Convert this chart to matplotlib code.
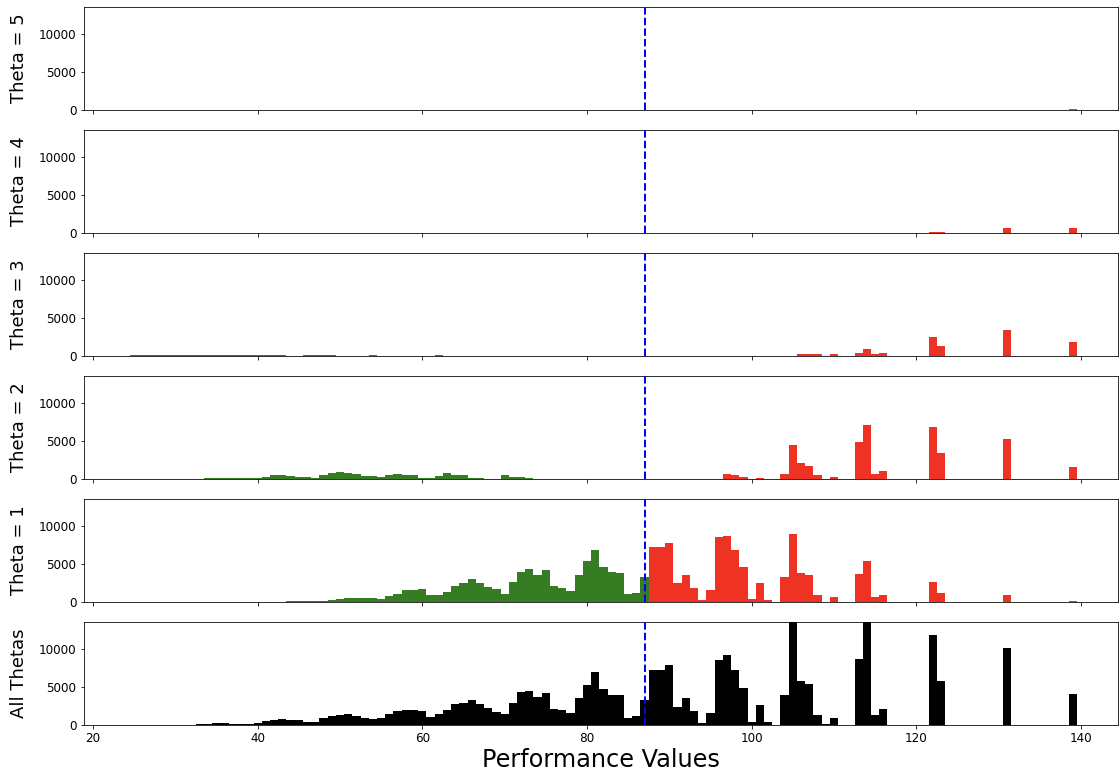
import numpy as np
import matplotlib
matplotlib.use("Agg")
import matplotlib.pyplot as plt

# ---- data (histogram counts per integer performance value) ----
threshold = 87.05

# Theta = 1
t1_green_start = 44
t1_green = [100, 100, 100, 100, 100, 200, 400, 570, 570, 570, 570, 440, 750, 1000,
            1580, 1580, 1700, 960, 960, 1300, 2150, 2450, 3000, 2450, 2000, 1700,
            1000, 2600, 4000, 4340, 3600, 4170, 2150, 1900, 1500, 3600, 5350, 6900,
            4600, 3950, 3770, 1000, 1180, 3300]
t1_red_start = 88
t1_red = [7200, 7200, 7800, 2450, 3600, 1900, 300, 1580, 8550, 8700, 6800, 4600,
          440, 2500, 300, 0, 3330, 8950, 3800, 3500, 880, 0, 600, 0, 0, 3640, 5350,
          600, 880, 0, 0, 0, 0, 0, 2630, 1180, 0, 0, 0, 0, 0, 0, 0, 920, 0, 0, 0, 0,
          0, 0, 0, 170]

# Theta = 2
t2_green_start = 34
t2_green = [130, 130, 130, 130, 130, 130, 130, 260, 550, 550, 350, 260, 260, 130,
            480, 790, 920, 790, 610, 350, 350, 250, 480, 610, 480, 480, 175, 175,
            350, 750, 480, 480, 175, 175, 0, 0, 480, 300, 300, 130]
t2_red_start = 97
t2_red = [610, 480, 300, 0, 175, 0, 0, 610, 4500, 2060, 1750, 480, 0, 300, 0, 0,
          4820, 7100, 610, 1050, 0, 0, 0, 0, 0, 6840, 3380, 0, 0, 0, 0, 0, 0, 0,
          5220, 0, 0, 0, 0, 0, 0, 0, 1620]

# Theta = 3
t3_green_start = 25
t3_green = [150] * 19 + [0, 0, 150, 150, 150, 150, 0, 0, 0, 0, 150,
                         0, 0, 0, 0, 0, 0, 0, 150]
t3_red_start = 106
t3_red = [200, 200, 200, 0, 200, 0, 0, 440, 920, 220, 400, 0, 0, 0, 0, 0, 2500,
          1300, 0, 0, 0, 0, 0, 0, 0, 3420, 0, 0, 0, 0, 0, 0, 0, 1800]

# Theta = 4
t4_red_start = 122
t4_red = [150, 150, 0, 0, 0, 0, 0, 0, 0, 700, 0, 0, 0, 0, 0, 0, 0, 600]

# Theta = 5
t5_red_start = 139
t5_red = [150]

# All thetas
all_start = 33
all_vals = [130, 130, 260, 260, 130, 130, 130, 260, 500, 700, 800, 650, 650, 450,
            450, 880, 1140, 1360, 1400, 1140, 880, 800, 960, 1400, 1900, 2000, 2000,
            1850, 1100, 1400, 2000, 2700, 2900, 3300, 2700, 2200, 1750, 1400, 2850,
            4350, 4430, 3730, 4170, 2150, 1930, 1580, 3600, 5300, 7000, 4740, 3900,
            3900, 960, 1140, 3300, 7300, 7300, 7900, 2400, 3600, 1900, 260, 1540,
            8500, 9250, 7200, 4900, 400, 2600, 400, 0, 4000, 14000, 5800, 5350, 1270,
            90, 960, 0, 0, 8640, 14000, 1270, 2150, 0, 0, 0, 0, 0, 11840, 5800, 0, 0,
            0, 0, 0, 0, 0, 10130, 0, 0, 0, 0, 0, 0, 0, 4040]

row_labels = ["Theta = 5", "Theta = 4", "Theta = 3", "Theta = 2", "Theta = 1", "All Thetas"]

GREEN = "#367c22"
RED = "#ee3325"

W, H = 1119, 773
DPI = 72
fig = plt.figure(figsize=(W / DPI, H / DPI), dpi=DPI)

left = 83.5 / W
right = 1118 / W
tops = [7, 130, 253, 376, 499, 622]
height_px = 103

panels = [
    [(t5_red_start, t5_red, RED)],
    [(t4_red_start, t4_red, RED)],
    [(t3_green_start, t3_green, GREEN), (t3_red_start, t3_red, RED)],
    [(t2_green_start, t2_green, GREEN), (t2_red_start, t2_red, RED)],
    [(t1_green_start, t1_green, GREEN), (t1_red_start, t1_red, RED)],
    [(all_start, all_vals, "black")],
]

axes = []
for i, (top, segs, lab) in enumerate(zip(tops, panels, row_labels)):
    bottom = (H - top - height_px) / H
    ax = fig.add_axes([left, bottom, right - left, height_px / H])
    for start, vals, col in segs:
        vals = np.asarray(vals, dtype=float)
        edges = np.arange(start - 0.5, start + len(vals) + 0.5, 1.0)
        ax.stairs(vals, edges, fill=True, color=col, linewidth=0)
    ax.axvline(threshold, color="#0000ff", linestyle="--", linewidth=2, zorder=5)
    ax.set_xlim(18.85, 144.5)
    ax.set_ylim(0, 13550)
    ax.set_yticks([0, 5000, 10000])
    ax.set_xticks([20, 40, 60, 80, 100, 120, 140])
    ax.tick_params(labelsize=12)
    ax.set_ylabel(lab, fontsize=18)
    ax.yaxis.set_label_coords(-55.5 / (W * (right - left)), 0.5)
    if i < 5:
        ax.tick_params(labelbottom=False)
    axes.append(ax)

axes[-1].set_xlabel("Performance Values", fontsize=24, labelpad=3)

fig.savefig("out.png", dpi=DPI)
